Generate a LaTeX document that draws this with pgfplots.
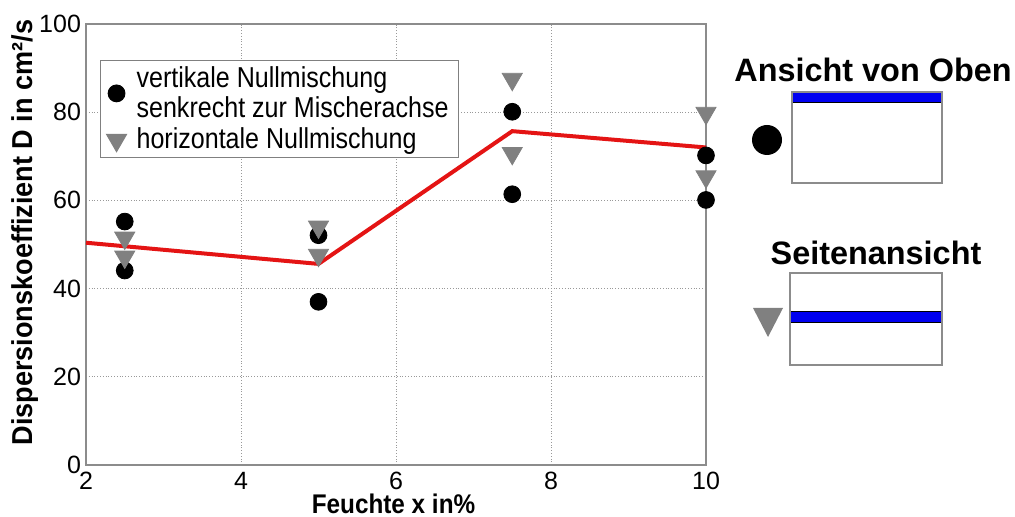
\documentclass[border=0pt]{standalone}
\usepackage{fontspec}
\setmainfont{Liberation Sans}
\newfontfamily\condA[FakeStretch=0.9]{Liberation Sans}
\newfontfamily\condY[FakeStretch=0.94]{Liberation Sans}
\newfontfamily\condB[FakeStretch=0.87]{Liberation Sans}
\usepackage{pgfplots}
\pgfplotsset{compat=1.18}
\definecolor{mred}{RGB}{228,20,20}
\definecolor{mgrey}{RGB}{128,128,128}
\definecolor{mblue}{RGB}{0,0,240}
\begin{document}
\begin{tikzpicture}[x=1pt,y=1pt]
\useasboundingbox (-43,-26) rectangle (464.5,232.5);
\begin{axis}[
  at={(0,0)}, anchor=south west,
  scale only axis, width=310pt, height=220.5pt,
  xmin=2, xmax=10, ymin=0, ymax=100,
  xtick={2,4,6,8,10}, ytick={0,20,40,60,80,100},
  grid=major,
  grid style={densely dotted, gray!80, line width=0.5pt},
  axis line style={gray!90, line width=0.6pt},
  tick style={draw=none},
  /pgf/number format/assume math mode=true,
  ticklabel style={font=\fontsize{12.5}{14}\selectfont},
  xticklabel style={inner sep=1pt, yshift=-2.5pt},
  yticklabel style={xshift=1pt},
  xlabel={\bfseries Feuchte x in\%},
  ylabel={\bfseries Dispersionskoeffizient D in cm²/s},
  xlabel style={font=\condA\fontsize{13.5}{15}\selectfont, inner sep=0pt, at={(axis description cs:0.496,-0.1111)}, anchor=base},
  ylabel style={font=\condY\fontsize{14.4}{16}\selectfont, at={(axis description cs:-0.098,0.527)}, anchor=center},
  legend style={at={(axis description cs:0.0226,0.918)}, anchor=north west,
    draw=gray, line width=0.5pt, font=\condB\fontsize{14.4}{14.8}\selectfont,
    cells={align=left, anchor=west}, inner sep=1pt, inner xsep=3pt, row sep=0pt,
    /tikz/every odd column/.append style={column sep=3pt}},
  legend cell align=left,
]
\addplot[mred, line width=2pt, forget plot] coordinates {
  (2,50.4) (5,45.6) (7.5,75.7) (10,72.0)};
\addplot[only marks, mark=*, mark size=4.2pt, black] coordinates {
  (2.5,55.2) (2.5,44.1) (5,52.1) (5,37.0) (7.5,80.1) (7.5,61.4) (10,70.2) (10,60.1)};
\addlegendentry{vertikale Nullmischung\\senkrecht zur Mischerachse}
\addplot[only marks, mark=triangle*, mark size=5.8pt, mgrey, mark options={rotate=180, fill=mgrey, draw=mgrey}] coordinates {
  (2.5,51.5) (2.5,47.2) (5,54.0) (5,47.6) (7.5,87.5) (7.5,70.7) (10,79.8) (10,65.4)};
\addlegendentry{horizontale Nullmischung}
\end{axis}
% right-hand sketches
\node[font=\bfseries\fontsize{16.2}{18}\selectfont] at (393.5,197.5) {Ansicht von Oben};
\fill[black] (340.5,162.5) circle (7.5);
\fill[mblue] (353,181) rectangle (428,186.5);
\draw[black, line width=0.5pt] (353,181) -- (428,181);
\draw[gray!90, line width=0.6pt] (353,141) rectangle (428,186.5);
\node[font=\bfseries\fontsize{16.2}{18}\selectfont] at (395,106) {Seitenansicht};
\fill[mgrey] (333.5,78.5) -- (348.5,78.5) -- (341,64) -- cycle;
\fill[mblue] (352,71) rectangle (428,76.5);
\draw[black, line width=0.5pt] (352,71) -- (428,71) (352,76.5) -- (428,76.5);
\draw[gray!90, line width=0.6pt] (352,50) rectangle (428,96);
\end{tikzpicture}
\end{document}
